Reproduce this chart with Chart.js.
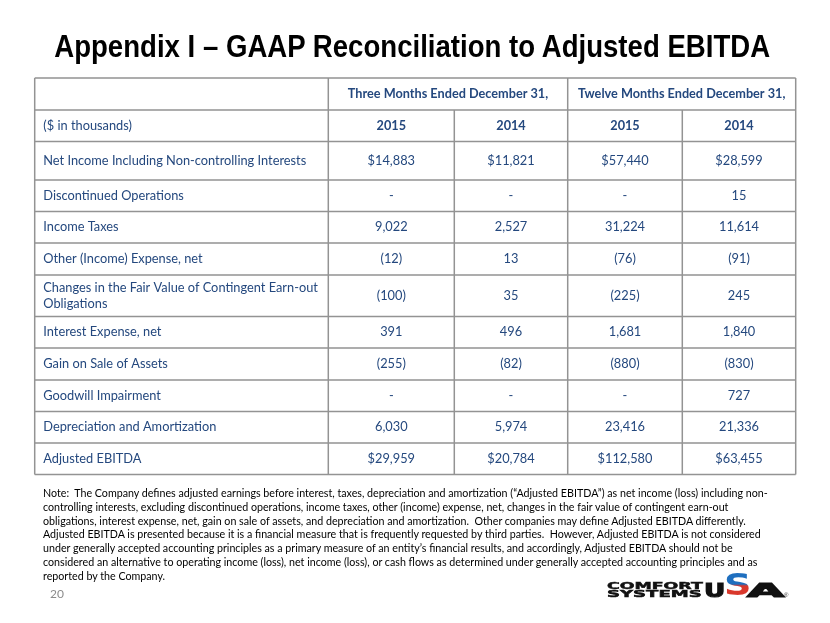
<!DOCTYPE html>
<html>
<head>
<meta charset="utf-8">
<script src="https://cdn.jsdelivr.net/npm/chart.js@4.4.1/dist/chart.umd.min.js"></script>
<style>
  html, body { margin: 0; padding: 0; background: #fff; }
  #page { position: relative; width: 830px; height: 623px; overflow: hidden; }
  #table { position: absolute; left: 0; top: 0; }
  .title {
    position: absolute; left: 0; width: 830px; top: 29px; text-align: center;
    font: bold 31px "Liberation Sans", Arial, sans-serif; color: #000;
    white-space: nowrap;
  }
  .title span { display: inline-block; transform: scaleX(0.89); transform-origin: 50% 50%; margin-left: -5px; }
  .note {
    position: absolute; left: 43px; top: 486px;
    font: 10.7px Lato, "Noto Sans", sans-serif; line-height: 13.8px; color: #000;
    white-space: pre;
  }
  .pagenum { position: absolute; left: 50px; top: 586px; font: 12px Lato, sans-serif; color: #8c8c8c; }
  .logo { position: absolute; white-space: nowrap; transform-origin: 0 0; }
  .logo-small { font: bold 9.5px "DejaVu Sans", sans-serif; color: #111; -webkit-text-stroke: 0.5px #111; line-height: 8px; }
  .logo-big { font: bold 20px "DejaVu Sans", sans-serif; color: #111; -webkit-text-stroke: 1.2px #111; line-height: 20px; }
  .logo-s {
    font-size: 30px; line-height: 30px;
    background: linear-gradient(180deg, #1f6fbf 0%, #1f6fbf 47%, #d9382c 53%, #d9382c 100%);
    -webkit-background-clip: text; background-clip: text; color: transparent;
    -webkit-text-stroke: 0;
  }
</style>
</head>
<body>
<div id="page">
  <canvas id="table" width="830" height="623"></canvas>
  <div class="title"><span>Appendix I – GAAP Reconciliation to Adjusted EBITDA</span></div>
  <div class="note" id="note"></div>
  <div class="pagenum">20</div>
  <div class="logo logo-small" data-w="95" style="left:607px; top:582px;">COMFORT</div>
  <div class="logo logo-small" data-w="95" style="left:607px; top:590px;">SYSTEMS</div>
  <div class="logo logo-big" data-w="21" style="left:704px; top:580px;">U</div>
  <div class="logo logo-big logo-s" data-w="28" style="left:724px; top:570px;">S</div>
  <div class="logo logo-big" data-w="36" style="left:747px; top:580px;">A</div>
  <div class="logo" style="left:784px; top:592px; font: 6px sans-serif; color:#333;">®</div>
</div>
<script>
// table contents ($ in thousands, null = "-")
const periods = ['Three Months Ended December 31,', 'Twelve Months Ended December 31,'];
const years = ['2015', '2014', '2015', '2014'];
const unitLabel = '($ in thousands)';
const rowLabels = [
  'Net Income Including Non-controlling Interests',
  'Discontinued Operations',
  'Income Taxes',
  'Other (Income) Expense, net',
  ['Changes in the Fair Value of Contingent Earn-out', 'Obligations'],
  'Interest Expense, net',
  'Gain on Sale of Assets',
  'Goodwill Impairment',
  'Depreciation and Amortization',
  'Adjusted EBITDA'
];
const threeMonths2015 = [14883, null, 9022, -12, -100, 391, -255, null, 6030, 29959];
const threeMonths2014 = [11821, null, 2527, 13, 35, 496, -82, null, 5974, 20784];
const twelveMonths2015 = [57440, null, 31224, -76, -225, 1681, -880, null, 23416, 112580];
const twelveMonths2014 = [28599, 15, 11614, -91, 245, 1840, -830, 727, 21336, 63455];
const dollarRows = [0, 9];

const noteLines = [
  'Note:  The Company defines adjusted earnings before interest, taxes, depreciation and amortization (\u201cAdjusted EBITDA\u201d) as net income (loss) including non-',
  'controlling interests, excluding discontinued operations, income taxes, other (income) expense, net, changes in the fair value of contingent earn-out',
  'obligations, interest expense, net, gain on sale of assets, and depreciation and amortization.  Other companies may define Adjusted EBITDA differently.',
  'Adjusted EBITDA is presented because it is a financial measure that is frequently requested by third parties.  However, Adjusted EBITDA is not considered',
  'under generally accepted accounting principles as a primary measure of an entity\u2019s financial results, and accordingly, Adjusted EBITDA should not be',
  'considered an alternative to operating income (loss), net income (loss), or cash flows as determined under generally accepted accounting principles and as',
  'reported by the Company.'
];
document.getElementById('note').textContent = noteLines.join('\n');

// logo letters stretched to the widths on the slide
document.querySelectorAll('.logo[data-w]').forEach(el => {
  el.style.transform = 'scaleX(' + (el.dataset.w / el.offsetWidth) + ')';
});

// grid geometry in table units (1 unit ~ 1px on the slide)
const colEdges = [0, 293.6, 419.6, 533, 647.6, 761];
const rowEdges = [0, 32, 63.5, 102, 133.5, 165, 197, 238.5, 270, 302, 333.5, 365, 396.5];
const colMid = c => (colEdges[c] + colEdges[c + 1]) / 2;
const rowMid = r => (rowEdges[r] + rowEdges[r + 1]) / 2;

const FONT = 'Lato, "Noto Sans", sans-serif';
const TEXT_COLOR = '#24487e';

function fmt(v, dollar) {
  if (v === null) return '-';
  const s = (dollar ? '$' : '') + Math.abs(v).toLocaleString('en-US');
  return v < 0 ? '(' + s + ')' : s;
}

const valueColumns = [threeMonths2015, threeMonths2014, twelveMonths2015, twelveMonths2014];

const tablePlugin = {
  id: 'tableCells',
  afterDatasetsDraw(chart) {
    const { ctx, scales: { x, y } } = chart;
    const px = v => x.getPixelForValue(v);
    const py = v => y.getPixelForValue(v);
    const last = rowEdges[rowEdges.length - 1];
    ctx.save();

    // grid lines
    ctx.strokeStyle = '#939393';
    ctx.lineWidth = 1.5;
    ctx.beginPath();
    rowEdges.forEach(e => {
      ctx.moveTo(px(0), py(e));
      ctx.lineTo(px(colEdges[5]), py(e));
    });
    colEdges.forEach((e, i) => {
      // year columns under the same period share the top header cell
      const top = (i === 2 || i === 4) ? rowEdges[1] : 0;
      ctx.moveTo(px(e), py(top));
      ctx.lineTo(px(e), py(last));
    });
    ctx.stroke();

    ctx.fillStyle = TEXT_COLOR;
    ctx.textBaseline = 'middle';

    // header rows
    ctx.font = 'bold 12.7px ' + FONT;
    ctx.textAlign = 'center';
    ctx.fillText(periods[0], px((colEdges[1] + colEdges[3]) / 2), py(rowMid(0)));
    ctx.fillText(periods[1], px((colEdges[3] + colEdges[5]) / 2), py(rowMid(0)));
    years.forEach((yr, c) => ctx.fillText(yr, px(colMid(c + 1)), py(rowMid(1))));

    ctx.font = '12.8px ' + FONT;
    ctx.textAlign = 'left';
    ctx.fillText(unitLabel, px(0) + 8.6, py(rowMid(1)));

    // row labels
    rowLabels.forEach((label, i) => {
      const cy = py(rowMid(i + 2));
      if (Array.isArray(label)) {
        label.forEach((ln, k) => ctx.fillText(ln, px(0) + 8.6, cy + (k - (label.length - 1) / 2) * 16.5));
      } else {
        ctx.fillText(label, px(0) + 8.6, cy);
      }
    });

    // values, placed at the dataset points
    ctx.textAlign = 'center';
    chart.data.datasets.forEach((ds, d) => {
      chart.getDatasetMeta(d).data.forEach((pt, i) => {
        ctx.fillText(fmt(ds.data[i].v, dollarRows.includes(i)), pt.x, pt.y);
      });
    });
    ctx.restore();
  }
};

new Chart(document.getElementById('table'), {
  type: 'scatter',
  data: {
    datasets: valueColumns.map((vals, c) => ({
      label: years[c],
      data: vals.map((v, i) => ({ x: colMid(c + 1), y: rowMid(i + 2), v })),
      pointRadius: 0,
      pointHoverRadius: 0
    }))
  },
  options: {
    responsive: false,
    animation: false,
    devicePixelRatio: 1,
    layout: { padding: { left: 34.7, right: 34.3, top: 78, bottom: 148.5 } },
    scales: {
      x: { type: 'linear', display: false, min: 0, max: colEdges[5] },
      y: { type: 'linear', display: false, reverse: true, min: 0, max: rowEdges[rowEdges.length - 1] }
    },
    plugins: { legend: { display: false }, tooltip: { enabled: false } }
  },
  plugins: [tablePlugin]
});
</script>
</body>
</html>
